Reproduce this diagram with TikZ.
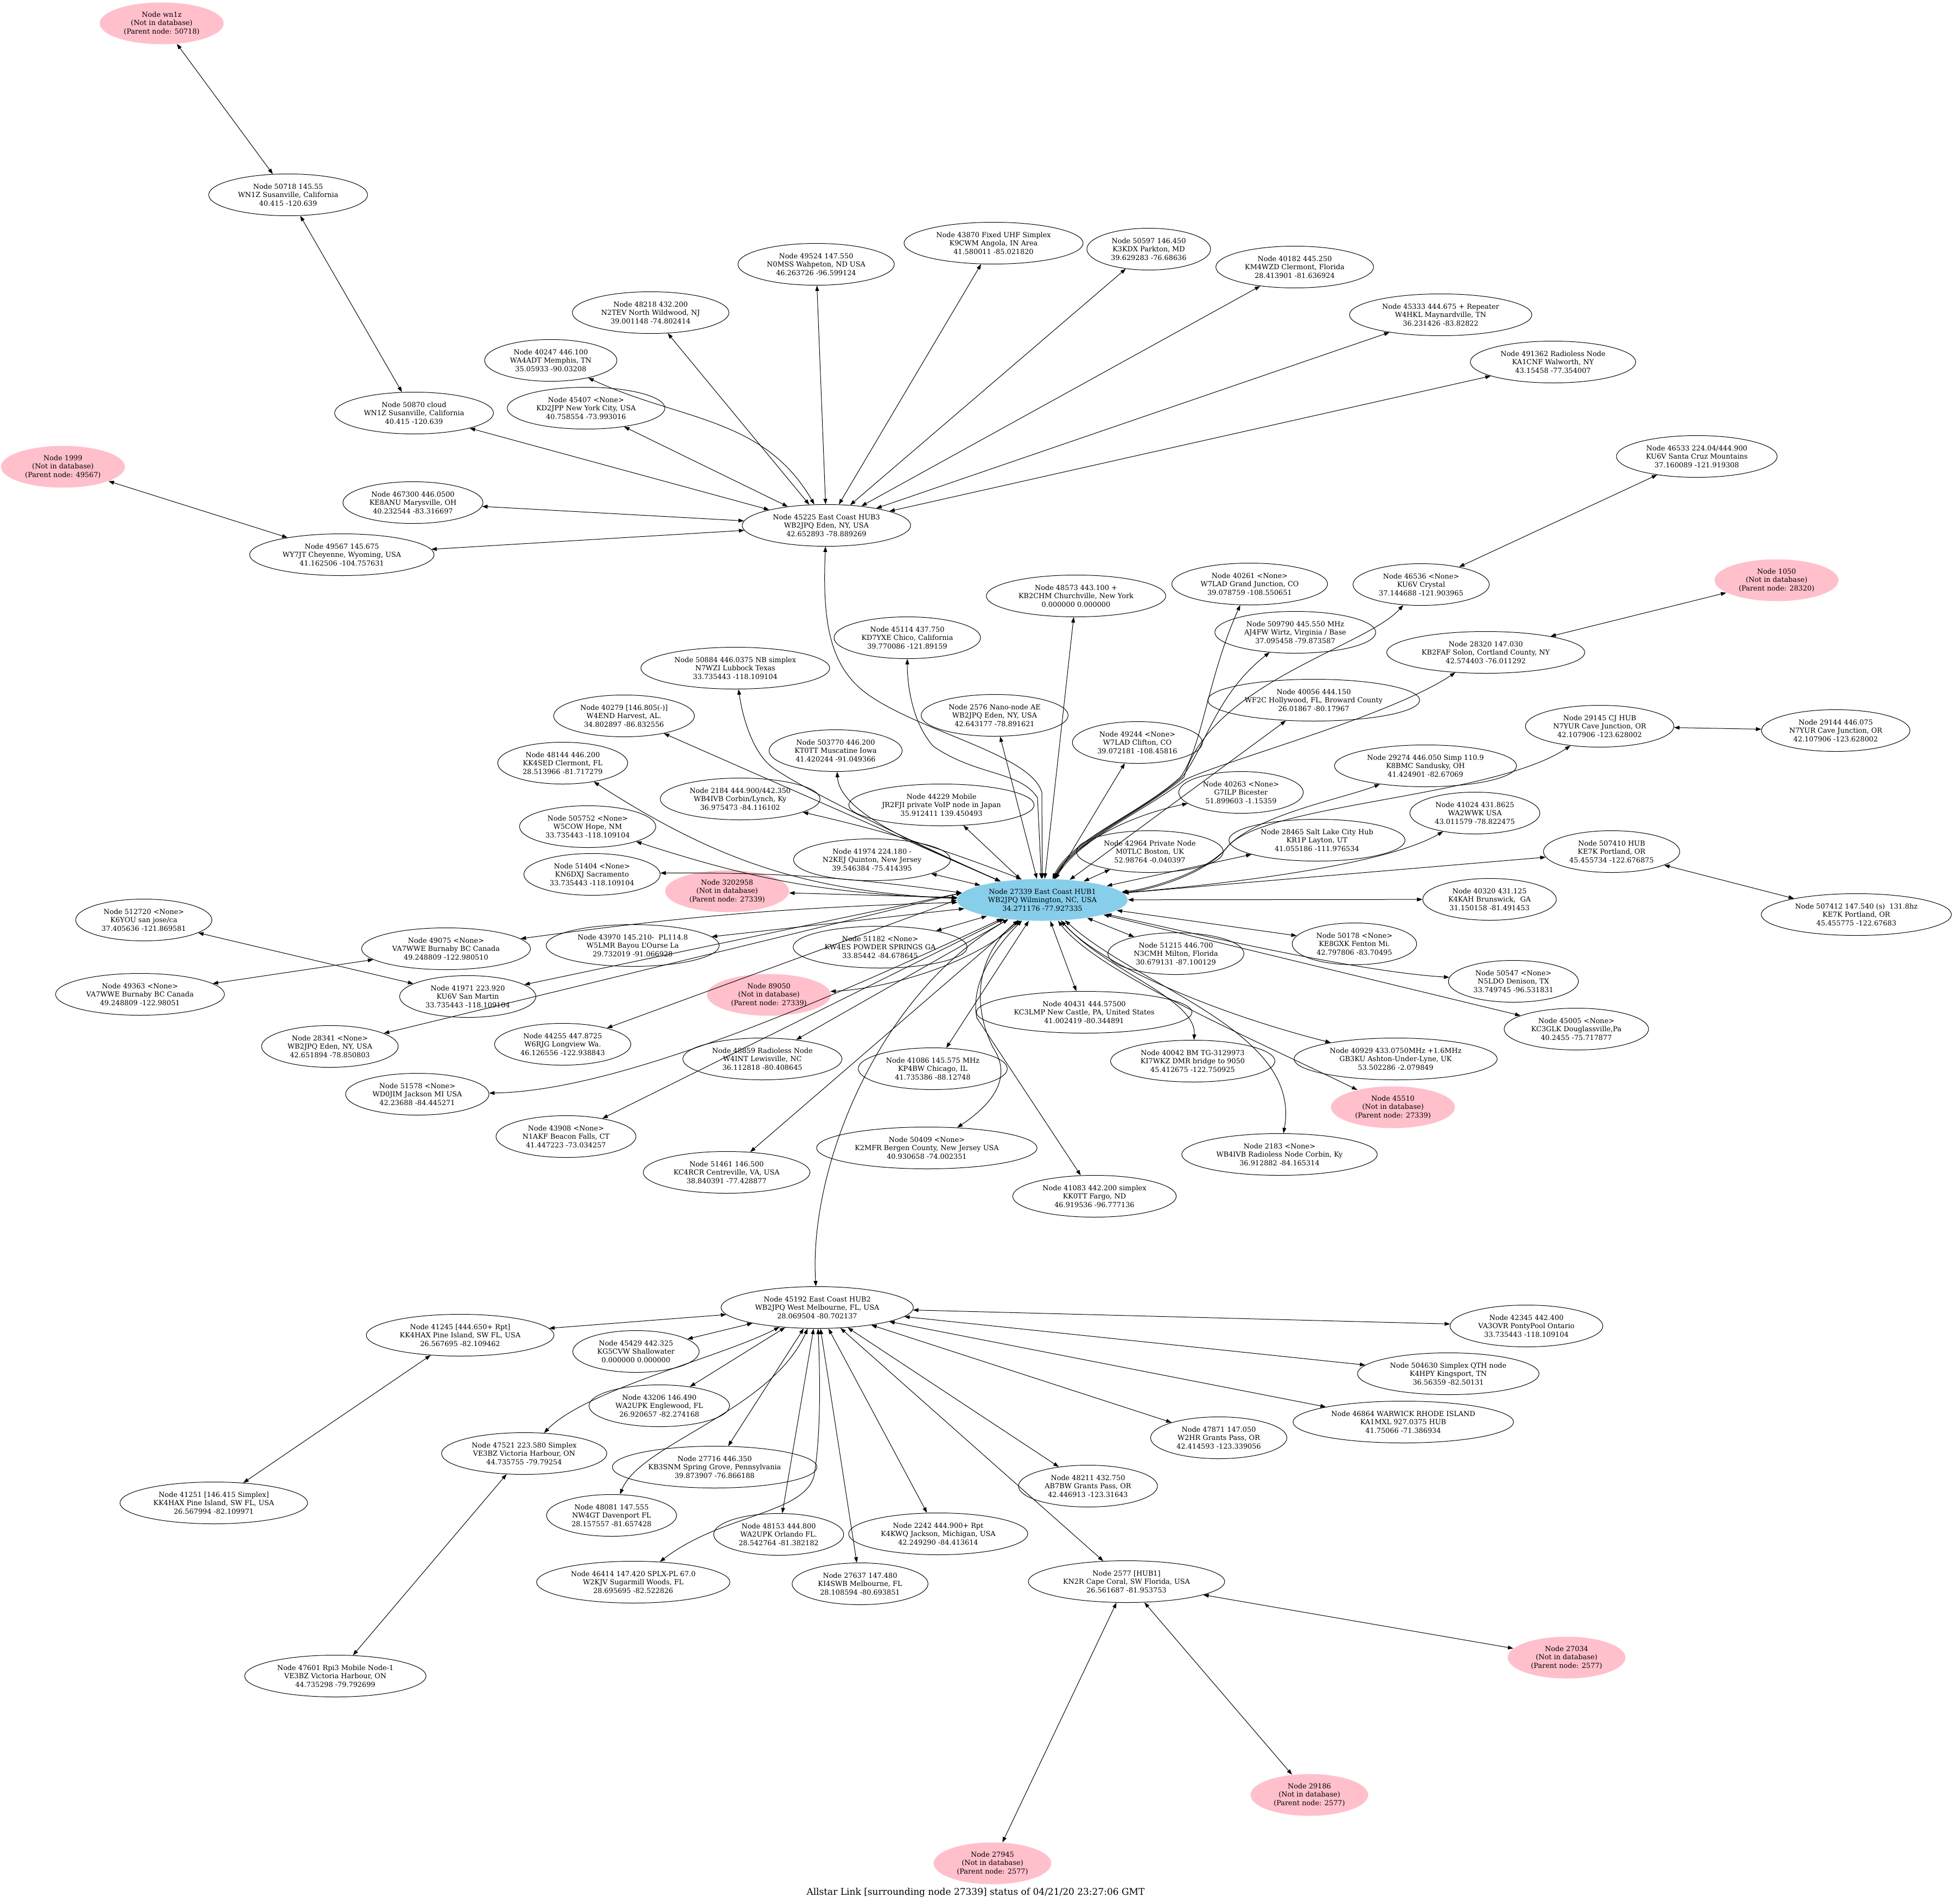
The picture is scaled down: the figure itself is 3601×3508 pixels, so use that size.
\documentclass[tikz,border=0pt]{standalone}
\usepackage{fontspec}
\setmainfont{DejaVu Serif}
\usetikzlibrary{shapes.geometric, arrows.meta}
\definecolor{gvpink}{HTML}{FFC0CB}
\definecolor{gvsky}{HTML}{87CEEB}

\begin{document}
\begin{tikzpicture}[
        x=1pt, y=1pt,
        station/.style = {
            ellipse, draw, line width=1pt,
            inner xsep=11pt, inner ysep=2pt,
            minimum height=77pt, align=center,
            font=\fontsize{12.85}{15.4}\selectfont
        },
        offline/.style = {station, draw=none, fill=gvpink},
        hub/.style = {station, draw=none, fill=gvsky},
        link/.style = {
            line width=1pt,
            {Triangle[length=10pt,width=7pt]}-{Triangle[length=10pt,width=7pt]}
        }]
        \useasboundingbox (0,0) rectangle (3601,-3508);

        % hub 3 and the nodes round it
        \node[offline] (wn1z) at (298,-43) {Node wn1z\\(Not in database)\\(Parent node: 50718)};
        \node[station] (n50718) at (531,-359) {Node 50718 145.55\\WN1Z Susanville, California\\40.415 -120.639};
        \node[station] (n50870) at (763,-761) {Node 50870 cloud\\WN1Z Susanville, California\\40.415 -120.639};
        \node[offline] (n1999) at (116,-860) {Node 1999\\(Not in database)\\(Parent node: 49567)};
        \node[station] (n467300) at (761,-926) {Node 467300 446.0500\\KE8ANU Marysville, OH\\40.232544 -83.316697};
        \node[station] (n49567) at (630,-1022) {Node 49567 145.675\\WY7JT Cheyenne, Wyoming, USA\\41.162506 -104.757631};
        \node[station] (n40247) at (1015,-664) {Node 40247 446.100\\WA4ADT Memphis, TN\\35.05933 -90.03208};
        \node[station] (n45407) at (1080,-752) {Node 45407 <None>\\KD2JPP New York City, USA\\40.758554 -73.993016};
        \node[station] (n48218) at (1199,-576) {Node 48218 432.200\\N2TEV North Wildwood, NJ\\39.001148 -74.802414};
        \node[station] (n49524) at (1504,-487) {Node 49524 147.550\\N0MSS Wahpeton, ND USA\\46.263726 -96.599124};
        \node[station] (n43870) at (1831,-448) {Node 43870 Fixed UHF Simplex\\K9CWM Angola, IN Area\\41.580011 -85.021820};
        \node[station] (n50597) at (2117,-459) {Node 50597 146.450\\K3KDX Parkton, MD\\39.629283 -76.68636};
        \node[station] (n40182) at (2386,-492) {Node 40182 445.250\\KM4WZD Clermont, Florida\\28.413901 -81.636924};
        \node[station] (n45333) at (2655,-580) {Node 45333 444.675 + Repeater\\W4HKL Maynardville, TN\\36.231426 -83.82822};
        \node[station] (n491362) at (2862,-667) {Node 491362 Radioless Node\\KA1CNF Walworth, NY\\43.15458 -77.354007};
        \node[station] (n45225) at (1523,-968) {Node 45225 East Coast HUB3\\WB2JPQ Eden, NY, USA\\42.652893 -78.889269};

        % hub 1 and the nodes round it
        \node[station] (n46533) at (3127,-841) {Node 46533 224.04/444.900\\KU6V Santa Cruz Mountains\\37.160089 -121.919308};
        \node[station] (n46536) at (2619,-1077) {Node 46536 <None>\\KU6V Crystal\\37.144688 -121.903965};
        \node[offline] (n1050) at (3274,-1069) {Node 1050\\(Not in database)\\(Parent node: 28320)};
        \node[station] (n40261) at (2303,-1076) {Node 40261 <None>\\W7LAD Grand Junction, CO\\39.078759 -108.550651};
        \node[station] (n48573) at (1983,-1098) {Node 48573 443.100 +\\KB2CHM Churchville, New York\\0.000000 0.000000};
        \node[station] (n509790) at (2387,-1165) {Node 509790 445.550 MHz\\AJ4FW Wirtz, Virginia / Base\\37.095458 -79.873587};
        \node[station] (n28320) at (2738,-1202) {Node 28320 147.030\\KB2FAF Solon, Cortland County, NY\\42.574403 -76.011292};
        \node[station] (n45114) at (1672,-1175) {Node 45114 437.750\\KD7YXE Chico, California\\39.770086 -121.89159};
        \node[station] (n50884) at (1355,-1231) {Node 50884 446.0375 NB simplex\\N7WZI Lubbock Texas\\33.735443 -118.109104};
        \node[station] (n40056) at (2421,-1290) {Node 40056 444.150\\WF2C Hollywood, FL, Broward County\\26.01867 -80.17967};
        \node[station] (n2576) at (1833,-1318) {Node 2576 Nano-node AE\\WB2JPQ Eden, NY, USA\\42.643177 -78.891621};
        \node[station] (n40279) at (1150,-1319) {Node 40279 [146.805(-)]\\W4END Harvest, AL.\\34.802897 -86.832556};
        \node[station] (n29145) at (2948,-1338) {Node 29145 CJ HUB\\N7YUR Cave Junction, OR\\42.107906 -123.628002};
        \node[station] (n29144) at (3383,-1346) {Node 29144 446.075\\N7YUR Cave Junction, OR\\42.107906 -123.628002};
        \node[station] (n503770) at (1540,-1383) {Node 503770 446.200\\KT0TT Muscatine Iowa\\41.420244 -91.049366};
        \node[station] (n49244) at (2096,-1368) {Node 49244 <None>\\W7LAD Clifton, CO\\39.072181 -108.45816};
        \node[station] (n48144) at (1037,-1406) {Node 48144 446.200\\KK4SED Clermont, FL\\28.513966 -81.717279};
        \node[station] (n29274) at (2627,-1411) {Node 29274 446.050 Simp 110.9\\K8BMC Sandusky, OH\\41.424901 -82.67069};
        \node[station] (n40263) at (2287,-1460) {Node 40263 <None>\\G7ILP Bicester\\51.899603 -1.15359};
        \node[station] (n2184) at (1364,-1472) {Node 2184 444.900/442.350\\WB4IVB Corbin/Lynch, Ky\\36.975473 -84.116102};
        \node[station] (n44229) at (1735,-1483) {Node 44229 Mobile\\JR2FJI private VoIP node in Japan\\35.912411 139.450493};
        \node[station] (n41024) at (2718,-1498) {Node 41024 431.8625\\WA2WWK USA\\43.011579 -78.822475};
        \node[station] (n505752) at (1083,-1523) {Node 505752 <None>\\W5COW Hope, NM\\33.735443 -118.109104};
        \node[station] (n42964) at (2119,-1569) {Node 42964 Private Node\\M0TLC Boston, UK\\52.98764 -0.040397};
        \node[station] (n28465) at (2427,-1548) {Node 28465 Salt Lake City Hub\\KR1P Layton, UT\\41.055186 -111.976534};
        \node[station] (n507410) at (2970,-1569) {Node 507410 HUB\\KE7K Portland, OR\\45.455734 -122.676875};
        \node[station] (n51404) at (1091,-1611) {Node 51404 <None>\\KN6DXJ Sacramento\\33.735443 -118.109104};
        \node[station] (n41974) at (1607,-1584) {Node 41974 224.180 -\\N2KEJ Quinton, New Jersey\\39.546384 -75.414395};
        \node[offline] (n3202958) at (1340,-1642) {Node 3202958\\(Not in database)\\(Parent node: 27339)};
        \node[hub] (hub1) at (1921,-1658) {Node 27339 East Coast HUB1\\WB2JPQ Wilmington, NC, USA\\34.271176 -77.927335};
        \node[station] (n40320) at (2745,-1657) {Node 40320 431.125\\K4KAH Brunswick,\ \ GA\\31.150158 -81.491453};
        \node[station] (n507412) at (3421,-1685) {Node 507412 147.540 (s)\ \ 131.8hz\\KE7K Portland, OR\\45.455775 -122.67683};
        \node[station] (n512720) at (265,-1695) {Node 512720 <None>\\K6YOU san jose/ca\\37.405636 -121.869581};
        \node[station] (n49075) at (822,-1748) {Node 49075 <None>\\VA7WWE Burnaby BC Canada\\49.248809 -122.980510};
        \node[station] (n43970) at (1166,-1742) {Node 43970 145.210-\ \ PL114.8\\W5LMR Bayou L'Ourse La\\29.732019 -91.066928};
        \node[station] (n51182) at (1622,-1745) {Node 51182 <None>\\KW4ES POWDER SPRINGS GA\\33.85442 -84.678645};
        \node[station] (n50178) at (2496,-1739) {Node 50178 <None>\\KE8GXK Fenton Mi.\\42.797806 -83.70495};
        \node[station] (n49363) at (258,-1832) {Node 49363 <None>\\VA7WWE Burnaby BC Canada\\49.248809 -122.98051};
        \node[station] (n41971) at (862,-1836) {Node 41971 223.920\\KU6V San Martin\\33.735443 -118.109104};
        \node[station] (n51215) at (2167,-1757) {Node 51215 446.700\\N3CMH Milton, Florida\\30.679131 -87.100129};
        \node[offline] (n89050) at (1417,-1833) {Node 89050\\(Not in database)\\(Parent node: 27339)};
        \node[station] (n50547) at (2789,-1808) {Node 50547 <None>\\N5LDO Denison, TX\\33.749745 -96.531831};
        \node[station] (n40431) at (1998,-1865) {Node 40431 444.57500\\KC3LMP New Castle, PA, United States\\41.002419 -80.344891};
        \node[station] (n45005) at (2905,-1896) {Node 45005 <None>\\KC3GLK Douglassville,Pa\\40.2455 -75.717877};
        \node[station] (n28341) at (608,-1928) {Node 28341 <None>\\WB2JPQ Eden, NY, USA\\42.651894 -78.850803};
        \node[station] (n44255) at (1037,-1924) {Node 44255 447.8725\\W6RJG Longview Wa.\\46.126556 -122.938843};
        \node[station] (n48859) at (1405,-1951) {Node 48859 Radioless Node\\W4INT Lewisville, NC\\36.112818 -80.408645};
        \node[station] (n41086) at (1719,-1969) {Node 41086 145.575 MHz\\KP4BW Chicago, IL\\41.735386 -88.12748};
        \node[station] (n40042) at (2198,-1955) {Node 40042 BM TG-3129973\\KI7WKZ DMR bridge to 9050\\45.412675 -122.750925};
        \node[station] (n40929) at (2572,-1951) {Node 40929 433.0750MHz +1.6MHz\\GB3KU Ashton-Under-Lyne, UK\\53.502286 -2.079849};
        \node[offline] (n45510) at (2567,-2040) {Node 45510\\(Not in database)\\(Parent node: 27339)};
        \node[station] (n51578) at (769,-2016) {Node 51578 <None>\\WD0JIM Jackson MI USA\\42.23688 -84.445271};
        \node[station] (n43908) at (1043,-2094) {Node 43908 <None>\\N1AKF Beacon Falls, CT\\41.447223 -73.034257};
        \node[station] (n50409) at (1708,-2115) {Node 50409 <None>\\K2MFR Bergen County, New Jersey USA\\40.930658 -74.002351};
        \node[station] (n2183) at (2358,-2127) {Node 2183 <None>\\WB4IVB Radioless Node Corbin, Ky\\36.912882 -84.165314};
        \node[station] (n51461) at (1339,-2160) {Node 51461 146.500\\KC4RCR Centreville, VA, USA\\38.840391 -77.428877};
        \node[station] (n41083) at (2017,-2204) {Node 41083 442.200 simplex\\KK0TT Fargo, ND\\46.919536 -96.777136};

        % hub 2 and the nodes round it
        \node[station] (hub2) at (1506,-2409) {Node 45192 East Coast HUB2\\WB2JPQ West Melbourne, FL, USA\\28.069504 -80.702137};
        \node[station] (n41245) at (848,-2460) {Node 41245 [444.650+ Rpt]\\KK4HAX Pine Island, SW FL, USA\\26.567695 -82.109462};
        \node[station] (n42345) at (2813,-2443) {Node 42345 442.400\\VA3OVR PontyPool Ontario\\33.735443 -118.109104};
        \node[station] (n45429) at (1172,-2490) {Node 45429 442.325\\KG5CVW Shallowater\\0.000000 0.000000};
        \node[station] (n504630) at (2669,-2531) {Node 504630 Simplex QTH node\\K4HPY Kingsport, TN\\36.56359 -82.50131};
        \node[station] (n43206) at (1215,-2590) {Node 43206 146.490\\WA2UPK Englewood, FL\\26.920657 -82.274168};
        \node[station] (n46864) at (2586,-2620) {Node 46864 WARWICK RHODE ISLAND\\KA1MXL 927.0375 HUB\\41.75066 -71.386934};
        \node[station] (n47521) at (966,-2678) {Node 47521 223.580 Simplex\\VE3BZ Victoria Harbour, ON\\44.735755 -79.79254};
        \node[station] (n47871) at (2246,-2649) {Node 47871 147.050\\W2HR Grants Pass, OR\\42.414593 -123.339056};
        \node[station] (n27716) at (1317,-2703) {Node 27716 446.350\\KB3SNM Spring Grove, Pennsylvania\\39.873907 -76.866188};
        \node[station] (n41251) at (394,-2769) {Node 41251 [146.415 Simplex]\\KK4HAX Pine Island, SW FL, USA\\26.567994 -82.109971};
        \node[station] (n48211) at (2005,-2738) {Node 48211 432.750\\AB7BW Grants Pass, OR\\42.446913 -123.31643};
        \node[station] (n48081) at (1127,-2792) {Node 48081 147.555\\NW4GT Davenport FL\\28.157557 -81.657428};
        \node[station] (n48153) at (1435,-2827) {Node 48153 444.800\\WA2UPK Orlando FL.\\28.542764 -81.382182};
        \node[station] (n2242) at (1729,-2826) {Node 2242 444.900+ Rpt\\K4KWQ Jackson, Michigan, USA\\42.249290 -84.413614};
        \node[station] (n46414) at (1167,-2915) {Node 46414 147.420 SPLX-PL 67.0\\W2KJV Sugarmill Woods, FL\\28.695695 -82.522826};
        \node[station] (n27637) at (1585,-2918) {Node 27637 147.480\\KI4SWB Melbourne, FL\\28.108594 -80.693851};
        \node[station] (n2577) at (2076,-2914) {Node 2577 [HUB1]\\KN2R Cape Coral, SW Florida, USA\\26.561687 -81.953753};
        \node[offline] (n27034) at (2887,-3054) {Node 27034\\(Not in database)\\(Parent node: 2577)};
        \node[station] (n47601) at (618,-3088) {Node 47601 Rpi3 Mobile Node-1\\VE3BZ Victoria Harbour, ON\\44.735298 -79.792699};
        \node[offline] (n29186) at (2413,-3307) {Node 29186\\(Not in database)\\(Parent node: 2577)};
        \node[offline] (n27945) at (1829,-3433) {Node 27945\\(Not in database)\\(Parent node: 2577)};

        \node[font=\fontsize{17}{20}\selectfont] (caption) at (1798,-3487)
            {Allstar Link [surrounding node 27339] status of 04/21/20 23:27:06 GMT};

        % links
        \draw[link] (wn1z) -- (n50718);
        \draw[link] (n50718) -- (n50870);
        \draw[link] (n1999) -- (n49567);
        \foreach \n in {n50870, n467300, n49567, n45407, n48218, n49524,
                        n43870, n50597, n40182, n45333, n491362}
            \draw[link] (\n) -- (n45225);
        \draw[link] (n40247) to[out=-25, in=120] (n45225);
        \draw[link] (n45225) .. controls (1515,-1150) and (1530,-1230) .. (1600,-1280)
            .. controls (1700,-1350) and (1900,-1390) .. (1920,-1460) -- (hub1);

        \draw[link] (n46533) -- (n46536);
        \draw[link] (n1050) -- (n28320);
        \draw[link] (n29145) -- (n29144);
        \draw[link] (n507410) -- (n507412);
        \draw[link] (n49075) -- (n49363);
        \draw[link] (n41971) -- (n512720);
        \foreach \n in {n48573, n2576, n40279, n44229, n41974, n3202958,
                        n40056, n49244, n42964, n28465, n507410,
                        n40320, n50178, n45005, n51215, n40431, n41086,
                        n51461, n48859, n43908, n51182, n43970}
            \draw[link] (hub1) -- (\n);
        \draw[link] (hub1.175) -- (n28341);
        \draw[link] (hub1.175) -- (n41971);
        \draw[link] (n45114) .. controls (1672,-1260) and (1680,-1330) .. (1720,-1375)
            .. controls (1800,-1430) and (1880,-1420) .. (1912,-1470) -- (hub1);
        \draw[link] (n50884) .. controls (1370,-1330) and (1390,-1390) .. (1425,-1415)
            .. controls (1490,-1460) and (1700,-1560) .. (hub1);
        \draw[link] (n503770) .. controls (1548,-1500) and (1700,-1560) .. (hub1);
        \draw[link] (n2184) to[bend left=4] (hub1.135);
        \draw[link] (n48144) to[bend right=15] (hub1);
        \draw[link] (n505752) to[bend right=8] (hub1);
        \draw[link] (n51404) to[bend left=4] (hub1.175);
        \draw[link] (n40261) .. controls (2225,-1250) and (2215,-1380) .. (2175,-1432)
            .. controls (2100,-1500) and (1975,-1545) .. (hub1);
        \draw[link] (n509790) .. controls (2240,-1280) and (2220,-1380) .. (2178,-1432)
            .. controls (2100,-1500) and (1980,-1545) .. (hub1);
        \draw[link] (n46536) .. controls (2520,-1190) and (2230,-1260) .. (2182,-1432)
            .. controls (2100,-1500) and (1985,-1545) .. (hub1);
        \draw[link] (n28320) .. controls (2560,-1320) and (2260,-1400) .. (2185,-1436)
            .. controls (2100,-1500) and (1990,-1545) .. (hub1);
        \draw[link] (hub1) .. controls (1975,-1560) and (2070,-1505) .. (n40263);
        \draw[link] (n29145) .. controls (2750,-1470) and (2330,-1480) .. (2262,-1560)
            .. controls (2225,-1610) and (2120,-1640) .. (hub1);
        \draw[link] (n29274) .. controls (2480,-1470) and (2320,-1500) .. (2264,-1558)
            .. controls (2228,-1605) and (2120,-1638) .. (hub1);
        \draw[link] (n41024) .. controls (2560,-1590) and (2300,-1625) .. (hub1);
        \draw[link] (hub1) .. controls (2200,-1720) and (2500,-1790) .. (n50547);
        \draw[link] (hub1) .. controls (2030,-1780) and (2250,-1870) .. (n40929);
        \draw[link] (hub1) .. controls (2020,-1790) and (2300,-1910) .. (n45510);
        \draw[link] (hub1) .. controls (2040,-1790) and (2205,-1840) .. (n40042);
        \draw[link] (hub1) .. controls (2100,-1820) and (2400,-1900) .. (n2183);
        \draw[link] (hub1) .. controls (1820,-1760) and (1790,-1820) .. (1800,-1875) -- (n41083);
        \draw[link] (hub1) .. controls (1800,-1760) and (1790,-1850) .. (1830,-1930)
            .. controls (1870,-1990) and (1820,-2040) .. (n50409);
        \draw[link] (hub1) .. controls (1620,-1830) and (1490,-2150) .. (hub2);
        \draw[link] (hub1) .. controls (1800,-1770) and (1650,-1820) .. (n89050);
        \draw[link] (hub1.180) -- (n44255);
        \draw[link] (hub1) .. controls (1550,-1830) and (1150,-2010) .. (n51578);
        \draw[link] (hub1) to[bend right=3] (n49075);

        \foreach \n in {n41245, n45429, n43206, n27716, n48153, n27637, n2242,
                        n48211, n2577, n47871, n46864, n504630, n42345}
            \draw[link] (hub2) -- (\n);
        \draw[link] (hub2) .. controls (1330,-2500) and (1080,-2560) .. (n47521);
        \draw[link] (hub2) .. controls (1420,-2600) and (1180,-2660) .. (n48081);
        \draw[link] (hub2) .. controls (1512,-2550) and (1512,-2650) .. (1500,-2720)
            .. controls (1480,-2790) and (1330,-2790) .. (n46414);
        \draw[link] (n41245) -- (n41251);
        \draw[link] (n47521) -- (n47601);
        \draw[link] (n2577) -- (n27034);
        \draw[link] (n2577) -- (n29186);
        \draw[link] (n2577) -- (n27945);
    \end{tikzpicture}
\end{document}
